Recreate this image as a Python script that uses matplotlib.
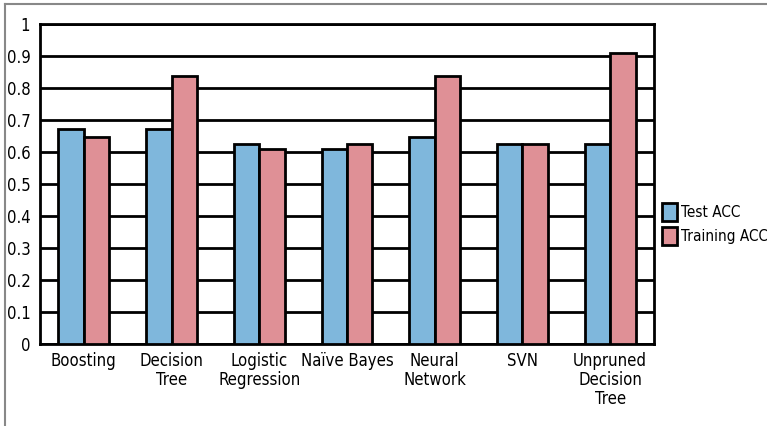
import matplotlib.pyplot as plt
import numpy as np
from matplotlib.lines import Line2D

categories = ['Boosting', 'Decision\nTree', 'Logistic\nRegression', 'Naïve Bayes',
              'Neural\nNetwork', 'SVN', 'Unpruned\nDecision\nTree']
test_acc = [0.672, 0.672, 0.625, 0.61, 0.647, 0.625, 0.625]
train_acc = [0.647, 0.838, 0.61, 0.625, 0.838, 0.625, 0.909]

plt.rcParams['font.family'] = ['DejaVu Sans']
plt.rcParams['font.stretch'] = 'condensed'

fig = plt.figure(figsize=(7.67, 4.26), dpi=100)
ax = fig.add_axes([40 / 767, 1 - 344 / 426, 614 / 767, 320 / 426])

x = np.arange(len(categories))
w = 0.29
ax.bar(x - w / 2, test_acc, w, color='#7fb7dc', edgecolor='black', linewidth=2,
       label='Test ACC', zorder=3)
ax.bar(x + w / 2, train_acc, w, color='#df9096', edgecolor='black', linewidth=2,
       label='Training ACC', zorder=3)

ax.set_xlim(-0.5, len(categories) - 0.5)
ax.set_ylim(0, 1)
ax.set_yticks(np.arange(0, 1.01, 0.1))
ax.set_yticklabels(['0', '0.1', '0.2', '0.3', '0.4', '0.5', '0.6', '0.7', '0.8', '0.9', '1'])
ax.set_xticks(x)
ax.set_xticklabels(categories, linespacing=1.05)
ax.tick_params(axis='both', length=0, labelsize=12)
ax.tick_params(axis='y', pad=7)
ax.tick_params(axis='x', pad=6)
ax.yaxis.grid(True, color='black', linewidth=2, zorder=0)
ax.set_axisbelow(True)
for s in ['left', 'bottom', 'right', 'top']:
    ax.spines[s].set_linewidth(2)
    ax.spines[s].set_color('black')

ax.legend(loc='center left', bbox_to_anchor=(1.006, 0.375), frameon=False,
          fontsize=11, handlelength=0.95, handleheight=1.4, handletextpad=0.25,
          labelspacing=0.4, borderaxespad=0, borderpad=0.3)

# frame lines of the original screenshot
fig.add_artist(Line2D([5 / 767, 1], [1 - 4 / 426, 1 - 4 / 426], color='#888888', linewidth=1.5))
fig.add_artist(Line2D([5 / 767, 5 / 767], [0, 1 - 4 / 426], color='#888888', linewidth=1.5))

fig.savefig('out.png', dpi=100)
